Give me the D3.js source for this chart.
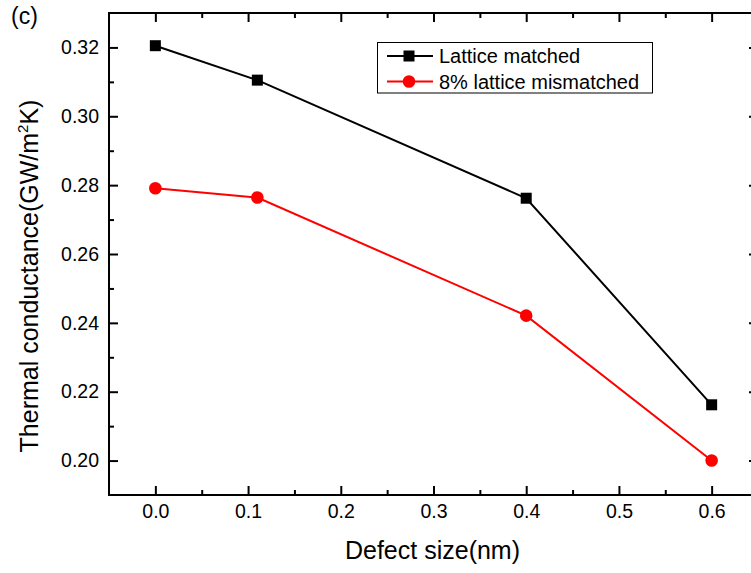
<!DOCTYPE html>
<html>
<head>
<meta charset="utf-8">
<script src="https://cdn.jsdelivr.net/npm/d3@7"></script>
<style>
  html, body { margin: 0; padding: 0; background: #fff; }
  svg { display: block; font-family: "Liberation Sans", Arial, sans-serif; }
</style>
</head>
<body>
<svg id="chart" width="751" height="573"></svg>
<script>
// Defect size (nm) and interface thermal conductance (GW/m^2K)
const defectSize = [0.0, 0.11, 0.4, 0.6];
const latticeMatched = [0.3205, 0.3105, 0.2762, 0.2162];
const latticeMismatched = [0.2791, 0.2764, 0.2421, 0.2000];
const seriesNames = ["Lattice matched", "8% lattice mismatched"];
const xTickValues = [0.0, 0.1, 0.2, 0.3, 0.4, 0.5, 0.6];
const yTickValues = [0.20, 0.22, 0.24, 0.26, 0.28, 0.30, 0.32];
const xMinorTicks = [0.05, 0.15, 0.25, 0.35, 0.45, 0.55];
const yMinorTicks = [0.21, 0.23, 0.25, 0.27, 0.29, 0.31];

const svg = d3.select("#chart");
const plotLeft = 109, plotTop = 13, plotRight = 758, plotBottom = 495;

const x = d3.scaleLinear().domain([-0.05, 0.65]).range([plotLeft, plotRight]);
const y = d3.scaleLinear().domain([0.19, 0.33]).range([plotBottom, plotTop]);

const fontSize = 19.5;

// frame
svg.append("rect")
  .attr("x", plotLeft).attr("y", plotTop)
  .attr("width", plotRight - plotLeft).attr("height", plotBottom - plotTop)
  .attr("fill", "none").attr("stroke", "#000").attr("stroke-width", 2);

// ticks pointing inward on all four sides
function drawAxis(axis, transform, ticks, size, labels) {
  const g = svg.append("g").attr("transform", transform)
    .call(axis.tickValues(ticks).tickSizeInner(size).tickSizeOuter(0)
      .tickFormat(labels ? d3.format(labels) : () => ""));
  g.select(".domain").remove();
  g.selectAll(".tick line").attr("stroke", "#000").attr("stroke-width", 2);
  g.selectAll(".tick text").attr("font-size", fontSize).attr("fill", "#000")
    .attr("font-family", "Liberation Sans, Arial, sans-serif");
  return g;
}

// bottom
const gxb = drawAxis(d3.axisBottom(x), `translate(0,${plotBottom})`, xTickValues, -9, ".1f");
gxb.selectAll(".tick text").attr("y", 9).attr("dy", "0.71em");
drawAxis(d3.axisBottom(x), `translate(0,${plotBottom})`, xMinorTicks, -5, null);
// top
drawAxis(d3.axisTop(x), `translate(0,${plotTop})`, xTickValues, -9, null);
drawAxis(d3.axisTop(x), `translate(0,${plotTop})`, xMinorTicks, -5, null);
// left
const gyl = drawAxis(d3.axisLeft(y), `translate(${plotLeft},0)`, yTickValues, -9, ".2f");
gyl.selectAll(".tick text").attr("x", -10);
drawAxis(d3.axisLeft(y), `translate(${plotLeft},0)`, yMinorTicks, -5, null);
// right
drawAxis(d3.axisRight(y), `translate(${plotRight},0)`, yTickValues, -9, null);
drawAxis(d3.axisRight(y), `translate(${plotRight},0)`, yMinorTicks, -5, null);

// axis titles
svg.append("text")
  .attr("x", (x(-0.05) + x(0.65)) / 2 - 1).attr("y", 559)
  .attr("text-anchor", "middle").attr("font-size", 25)
  .text("Defect size(nm)");

const yTitle = svg.append("text")
  .attr("transform", "translate(38,276) rotate(-90)")
  .attr("text-anchor", "middle").attr("font-size", 25);
yTitle.append("tspan").text("Thermal conductance(GW/m");
yTitle.append("tspan").attr("font-size", 15).attr("dy", -10).text("2");
yTitle.append("tspan").attr("dy", 10).text("K)");

// panel tag
svg.append("text").attr("x", 11).attr("y", 24).attr("font-size", 23).text("(c)");

// series
const line = d3.line().x(d => x(d[0])).y(d => y(d[1]));
const black = defectSize.map((d, i) => [d, latticeMatched[i]]);
const red = defectSize.map((d, i) => [d, latticeMismatched[i]]);

svg.append("path").datum(black).attr("d", line)
  .attr("fill", "none").attr("stroke", "#000").attr("stroke-width", 2);
svg.append("path").datum(red).attr("d", line)
  .attr("fill", "none").attr("stroke", "#ff0000").attr("stroke-width", 2);

const sq = 11;
svg.selectAll(".sq").data(black).enter().append("rect")
  .attr("x", d => x(d[0]) - sq / 2).attr("y", d => y(d[1]) - sq / 2)
  .attr("width", sq).attr("height", sq).attr("fill", "#000");
svg.selectAll(".ci").data(red).enter().append("circle")
  .attr("cx", d => x(d[0])).attr("cy", d => y(d[1])).attr("r", 6.3)
  .attr("fill", "#ff0000");

// legend
const lg = svg.append("g");
lg.append("rect").attr("x", 377.5).attr("y", 42.5).attr("width", 275).attr("height", 50.5)
  .attr("fill", "#fff").attr("stroke", "#000").attr("stroke-width", 1);
const rows = [
  { name: seriesNames[0], color: "#000", y: 56, shape: "square" },
  { name: seriesNames[1], color: "#ff0000", y: 81.5, shape: "circle" }
];
rows.forEach(r => {
  lg.append("line").attr("x1", 387).attr("x2", 433).attr("y1", r.y).attr("y2", r.y)
    .attr("stroke", r.color).attr("stroke-width", 2);
  if (r.shape === "square") {
    lg.append("rect").attr("x", 409 - 5.5).attr("y", r.y - 5.5).attr("width", 11).attr("height", 11)
      .attr("fill", r.color);
  } else {
    lg.append("circle").attr("cx", 409).attr("cy", r.y).attr("r", 6.3).attr("fill", r.color);
  }
  lg.append("text").attr("x", 439).attr("y", r.y).attr("dy", "0.36em")
    .attr("font-size", 20).text(r.name);
});
</script>
</body>
</html>
